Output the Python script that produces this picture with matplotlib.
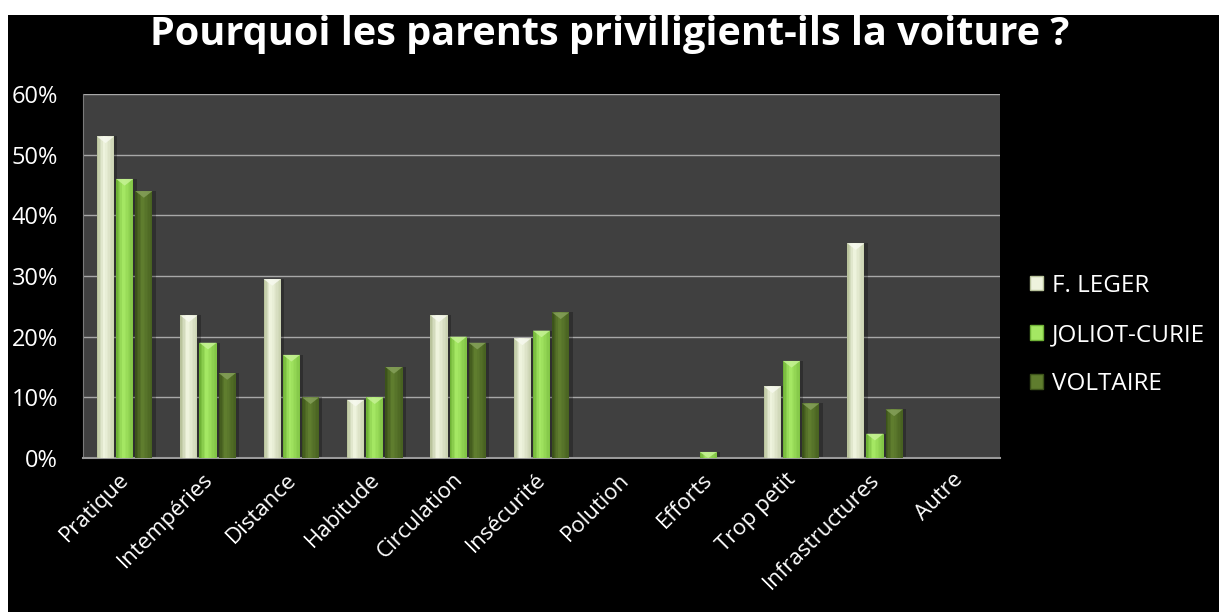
import numpy as np
import matplotlib.pyplot as plt
from matplotlib.patches import Rectangle, Polygon
from matplotlib.ticker import PercentFormatter
from matplotlib.transforms import ScaledTranslation

categories = ["Pratique", "Intempéries", "Distance", "Habitude", "Circulation",
              "Insécurité", "Polution", "Efforts", "Trop petit", "Infrastructures", "Autre"]
series_names = ["F. LEGER", "JOLIOT-CURIE", "VOLTAIRE"]
leger = [53, 23.5, 29.5, 9.6, 23.5, 19.7, 0, 0, 11.8, 35.4, 0]
joliot = [46, 19, 17, 10, 20, 21, 0, 1, 16, 4, 0]
voltaire = [44, 14, 10, 15, 19, 24, 0, 0, 9, 8, 0]

# (edge, mid, highlight, cap) per series
palettes = [
    ("#b9c39c", "#d9e2bc", "#eef3dd", "#f7f9ef"),
    ("#6fb236", "#8cd44a", "#a4e763", "#c6f295"),
    ("#3c531a", "#4d6922", "#5f7d2e", "#85a05a"),
]

W, H = 1219, 612
FONT = "Open Sans"
fig = plt.figure(figsize=(W / 100, H / 100), dpi=100, facecolor="white")
fig.patches.append(Rectangle((8 / W, 0), 1, 1 - 15 / H, transform=fig.transFigure,
                             facecolor="black", edgecolor="none", zorder=-10))

ax = fig.add_axes([83 / W, 154 / H, 917 / W, 364 / H])
ax.set_facecolor("#404040")

x = np.arange(len(categories))
bw = 0.205
step = 0.23
n_slices = 12
shade = np.concatenate([np.linspace(0, 1, 5), np.linspace(1, 0.35, 7)])


def draw_bar(xc, h, pal):
    if h <= 0:
        return
    edge, mid, hi, cap = [np.array(plt.matplotlib.colors.to_rgb(c)) for c in pal]
    left = xc - bw / 2
    sw = bw / n_slices
    for k in range(n_slices):
        col = edge + (hi - edge) * shade[k]
        ax.bar(left + sw * (k + 0.5), h, width=sw * 1.02, color=col,
               edgecolor="none", zorder=3)
    # soft shadow on the right
    ax.bar(left + bw + 0.02, h, width=0.04, color="black", alpha=0.25,
           edgecolor="none", zorder=2)
    # bevel cap
    ch = min(1.1, h)
    ax.add_patch(Polygon([(left, h), (left + bw, h), (xc, h - ch)],
                         closed=True, facecolor=cap, edgecolor="none",
                         alpha=0.85, zorder=4))


for j, vals in enumerate([leger, joliot, voltaire]):
    for i, v in enumerate(vals):
        draw_bar(x[i] + (j - 1) * step, v, palettes[j])

ax.set_xlim(-0.5, len(categories) - 0.5)
ax.set_ylim(0, 60)
ax.set_yticks(np.arange(0, 61, 10))
ax.yaxis.set_major_formatter(PercentFormatter(decimals=0))
ax.grid(axis="y", color="#a8a8a8", linewidth=1.0, zorder=1)
ax.set_axisbelow(True)
for side in ["top", "right"]:
    ax.spines[side].set_visible(False)
ax.spines["left"].set_color("#7a7a7a")
ax.spines["bottom"].set_color("#9a9a9a")
ax.spines["bottom"].set_linewidth(1.5)

ax.tick_params(axis="both", length=0, colors="white")
ax.tick_params(axis="y", pad=18, labelsize=17)
ax.set_xticks(x)
ax.set_xticklabels(categories, rotation=45, ha="right", rotation_mode="anchor",
                   fontsize=16, color="white", fontfamily=FONT)
ax.tick_params(axis="x", pad=8)
shift = ScaledTranslation(-6 / 100, 0, fig.dpi_scale_trans)
for lab in ax.get_xticklabels():
    lab.set_transform(lab.get_transform() + shift)
for lab in ax.get_yticklabels():
    lab.set_fontfamily(FONT)
    lab.set_color("white")

fig.text(0.5, 1 - 45 / H, "Pourquoi les parents priviligient-ils la voiture ?",
         ha="center", va="baseline", color="white", fontsize=28.5,
         fontweight="bold", fontfamily=FONT)

handles = [Rectangle((0, 0), 1, 1, facecolor=p[2], edgecolor=p[0]) for p in palettes]
fig.legend(handles, series_names, loc="center left",
           bbox_to_anchor=(1030 / W, 1 - 335 / H), frameon=False,
           labelcolor="white", prop={"family": FONT, "size": 17.5},
           handlelength=0.55, handleheight=0.55, handletextpad=0.35,
           labelspacing=1.04, borderaxespad=0, borderpad=0)

fig.savefig("out.png", dpi=100, facecolor=fig.get_facecolor())
